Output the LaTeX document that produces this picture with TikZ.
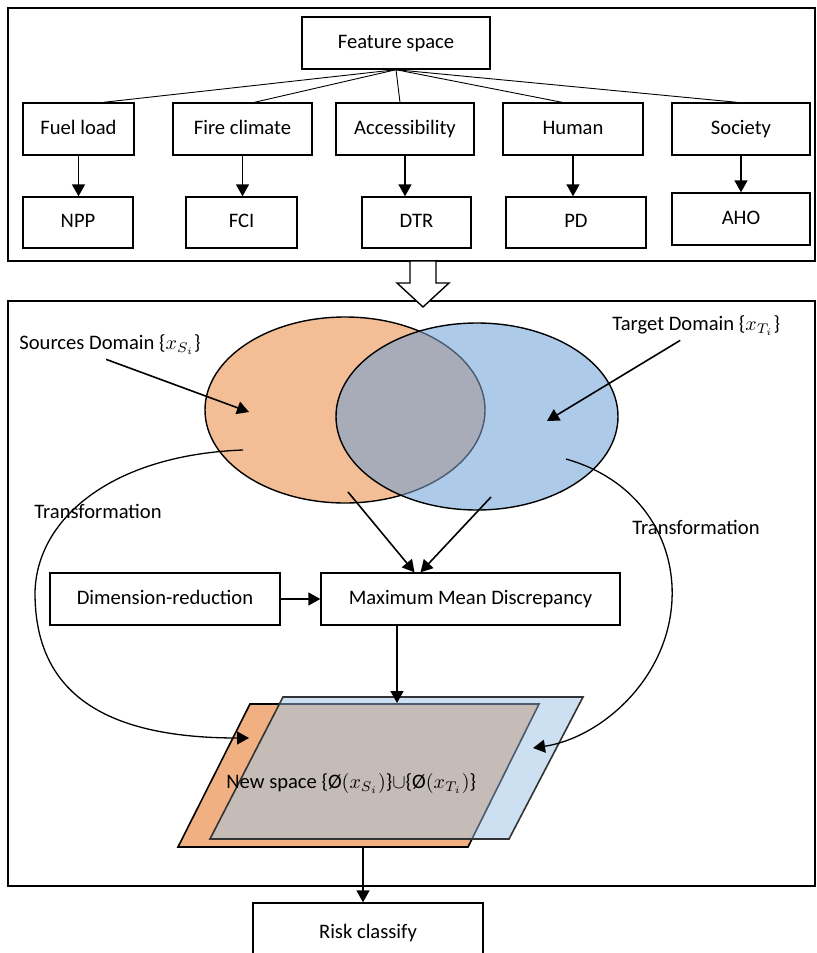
\documentclass[tikz,border=0pt]{standalone}
\usepackage{fontspec}
\setmainfont{Carlito}
\usetikzlibrary{arrows.meta,shapes.geometric}
\definecolor{oransjeell}{HTML}{F3BE96}
\definecolor{blaaell}{HTML}{ADCBE9}
\definecolor{graaell}{HTML}{A7ACB8}
\definecolor{oransjepar}{HTML}{F1B082}
\definecolor{blaapar}{HTML}{CDE0F1}
\definecolor{graapar}{HTML}{C6BCB7}
\definecolor{skifer}{HTML}{4A5B70}
\tikzset{
    >={Triangle[length=6pt,width=6.5pt]},
    boks/.style={
           draw=black, line width=0.7pt,
           minimum height=26pt,
           inner sep=0pt,
           text height=1.6ex, text depth=0.45ex,
           text centered},
    ramme/.style={
           draw=black, line width=0.8pt},
    tynn/.style={
           line width=0.45pt},
    pil/.style={
           ->,
           line width=0.8pt},
    kurve/.style={
           ->,
           line width=0.65pt}
}

\begin{document}
\begin{tikzpicture}[x=0.5pt, y=-0.5pt, font=\fontsize{10.3pt}{12pt}\selectfont]
        \clip (0,0) rectangle (817,953);

        % feature space panel
        \draw[ramme] (8,8) rectangle (815,261);
        \node[boks, minimum width=94pt] (fs) at (396,43) {Feature space};
        \node[boks, minimum width=55.5pt] (fuel) at (78.5,129) {Fuel load};
        \node[boks, minimum width=69.5pt] (fire) at (242.5,129) {Fire climate};
        \node[boks, minimum width=69pt] (acc) at (405,129) {Accessibility};
        \node[boks, minimum width=70pt] (human) at (573,129) {Human};
        \node[boks, minimum width=69pt] (soc) at (741,129) {Society};
        \node[boks, minimum width=55pt, minimum height=25.5pt] (npp) at (78,222.5) {NPP};
        \node[boks, minimum width=55.5pt, minimum height=25.5pt] (fci) at (241.5,222.5) {FCI};
        \node[boks, minimum width=54.5pt, minimum height=25.5pt] (dtr) at (416.5,222.5) {DTR};
        \node[boks, minimum width=70pt, minimum height=25.5pt] (pd) at (576,222.5) {PD};
        \node[boks, minimum width=69pt] (aho) at (741,219) {AHO};

        \draw[tynn] (fs.south) -- ([xshift=12.5pt]fuel.north);
        \draw[tynn] (fs.south) -- ([xshift=6pt]fire.north);
        \draw[tynn] (fs.south) -- ([xshift=-2.5pt]acc.north);
        \draw[tynn] (fs.south) -- ([xshift=-5.5pt]human.north);
        \draw[tynn] (fs.south) -- ([xshift=-2pt]soc.north);

        \draw[pil] (fuel.south) -- (fuel.south |- npp.north);
        \draw[pil] (fire.south) -- (fire.south |- fci.north);
        \draw[pil] (acc.south) -- (acc.south |- dtr.north);
        \draw[pil] (human.south) -- (human.south |- pd.north);
        \draw[pil] (soc.south) -- (soc.south |- aho.north);

        % transfer panel
        \draw[ramme] (8,301) rectangle (815,886);
        \draw[line width=0.7pt, fill=white] (410,261) -- (436,261) -- (436,283) -- (449,283)
            -- (423,307) -- (397,283) -- (410,283) -- cycle;

        % domains
        \node[ellipse, draw=black, line width=0.7pt, fill=oransjeell, inner sep=0pt,
              minimum width=140pt, minimum height=93pt] (kilde) at (345,410) {};
        \fill[blaaell] (477,416.5) ellipse [x radius=70.5pt, y radius=46.75pt];
        \begin{scope}
            \clip (345,410) ellipse [x radius=70pt, y radius=46.5pt];
            \fill[graaell] (477,416.5) ellipse [x radius=70.5pt, y radius=46.75pt];
        \end{scope}
        \begin{scope}
            \clip (477,416.5) ellipse [x radius=70.5pt, y radius=46.75pt];
            \draw[skifer, line width=0.7pt] (345,410) ellipse [x radius=70pt, y radius=46.5pt];
        \end{scope}
        \node[ellipse, draw=black, line width=0.7pt, inner sep=0pt,
              minimum width=141pt, minimum height=93.5pt] (maal) at (477,416.5) {};

        \node[anchor=west, inner sep=0pt] (kildetxt) at (19,345) {Sources Domain \{$x_{S_i}$\}};
        \node[anchor=west, inner sep=0pt] (maaltxt) at (612,326) {Target Domain \{$x_{T_i}$\}};
        \coordinate (kildepkt) at (249,412);
        \coordinate (maalpkt) at (547,421);
        \draw[pil] ([xshift=-2pt,yshift=-2pt]kildetxt.south) -- (kildepkt);
        \draw[pil] ([xshift=-8pt,yshift=-2pt]maaltxt.south) -- (maalpkt);

        % new space
        \fill[oransjepar] (250,704) -- (539,704) -- (468,847) -- (178,847) -- cycle;
        \draw[line width=0.8pt] (250,704) -- (539,704) -- (468,847) -- (178,847) -- cycle;
        \fill[blaapar] (283,697) -- (583,697) -- (509,839) -- (210,839) -- cycle;
        \begin{scope}
            \clip (250,704) -- (539,704) -- (468,847) -- (178,847) -- cycle;
            \fill[graapar] (283,697) -- (583,697) -- (509,839) -- (210,839) -- cycle;
        \end{scope}
        \begin{scope}
            \clip (283,697) -- (583,697) -- (509,839) -- (210,839) -- cycle;
            \draw[skifer, line width=0.8pt] (250,704) -- (539,704) -- (468,847) -- (178,847) -- cycle;
        \end{scope}
        \draw[black!80, line width=0.8pt] (283,697) -- (583,697) -- (509,839) -- (210,839) -- cycle;
        \node[anchor=west, inner sep=0pt] (ny) at (226,783)
            {New space \{Ø$(x_{S_i})$\}$\cup$\{Ø$(x_{T_i})$\}};

        % mmd
        \node[boks, minimum width=115pt] (dr) at (165,599) {Dimension-reduction};
        \node[boks, minimum width=149.5pt] (mmd) at (470.5,599) {Maximum Mean Discrepancy};
        \draw[pil] (dr) -- (mmd);
        \coordinate (kildeut) at (348,492);
        \coordinate (maalut) at (491,497);
        \draw[pil] (kildeut) -- ([xshift=-28pt]mmd.north);
        \draw[pil] (maalut) -- ([xshift=-25pt]mmd.north);
        \coordinate (nytopp) at (397,703);
        \draw[pil] (mmd.south -| nytopp) -- (nytopp);

        % transformations
        \coordinate (venstreinn) at (249,738);
        \coordinate (hoyreinn) at (533,748);
        \draw[kurve] (243,450) .. controls (110,455) and (36,520) .. (35,593)
            .. controls (35,690) and (100,738) .. (venstreinn);
        \draw[kurve] (566,459) .. controls (640,480) and (675,540) .. (672,600)
            .. controls (668,680) and (600,738) .. (hoyreinn);
        \node (transv) at (98,511) {Transformation};
        \node (transh) at (696,527) {Transformation};

        % output
        \coordinate (nybunn) at (363,847);
        \node[boks, minimum width=115pt, minimum height=30pt] (risk) at (368,933) {Risk classify};
        \draw[pil] (nybunn) -- (nybunn |- risk.north);

    \end{tikzpicture}
\end{document}
